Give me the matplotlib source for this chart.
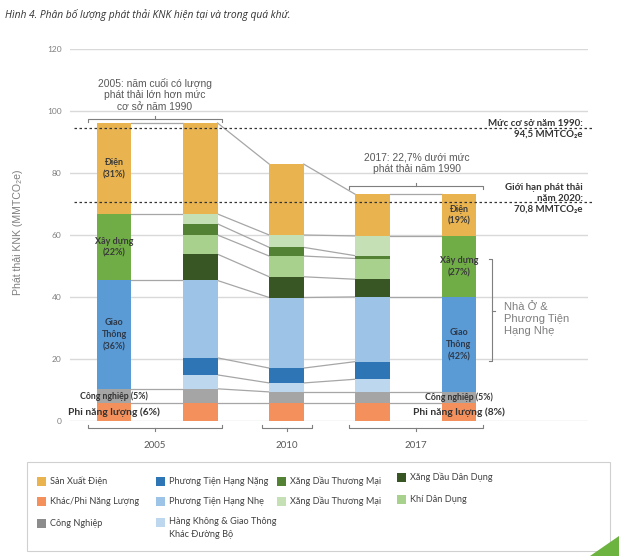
import matplotlib
matplotlib.use("Agg")
import matplotlib.pyplot as plt
from matplotlib.patches import Rectangle, Polygon

# ---------------- data ----------------
title = "Hình 4. Phân bố lượng phát thải KNK hiện tại và trong quá khứ."
years = ["2005", "2010", "2017"]

detail_sectors = ["Khác/Phi Năng Lượng", "Công Nghiệp", "Hàng Không & Giao Thông\nKhác Đường Bộ",
                  "Phương Tiện Hạng Nặng", "Phương Tiện Hạng Nhẹ", "Xăng Dầu Dân Dụng",
                  "Khí Dân Dụng", "Xăng Dầu Thương Mại", "Xăng Dầu Thương Mại ", "Sản Xuất Điện"]
detail_2005 = [5.7, 4.6, 4.5, 5.5, 25.0, 8.5, 6.2, 3.6, 3.2, 29.4]
detail_2010 = [5.7, 3.6, 2.9, 4.8, 22.8, 6.7, 6.7, 2.8, 4.0, 22.9]
detail_2017 = [5.7, 3.6, 4.1, 5.7, 20.9, 5.7, 6.7, 0.9, 6.4, 13.4]

agg_sectors = ["Phi năng lượng", "Công nghiệp", "Giao Thông", "Xây dựng", "Điện"]
agg_2005 = [5.7, 4.6, 35.0, 21.5, 29.4]
agg_2017 = [5.7, 3.6, 30.7, 19.7, 13.4]
agg_labels_2005 = ["Phi năng lượng (6%)", "Công nghiệp (5%)", "Giao\nThông\n(36%)", "Xây dựng\n(22%)", "Điện\n(31%)"]
agg_labels_2017 = ["Phi năng lượng (8%)", "Công nghiệp (5%)", "Giao\nThông\n(42%)", "Xây dựng\n(27%)", "Điện\n(19%)"]

baseline_1990 = 94.5
limit_2020 = 70.8
yticks = [0, 20, 40, 60, 80, 100, 120]

# ---------------- style ----------------
detail_colors = ["#F4905C", "#A5A5A5", "#BDD7EE", "#2E75B6", "#9DC3E6", "#375623",
                 "#A9D18E", "#548235", "#C5E0B4", "#E9B450"]
agg_colors = ["#F4905C", "#A5A5A5", "#5B9BD5", "#70AD47", "#E9B450"]

SANS = ["Lato", "Noto Sans", "DejaVu Sans"]
ARIAL = ["Liberation Sans", "DejaVu Sans"]
plt.rcParams["font.family"] = SANS

W, H = 619, 556
fig = plt.figure(figsize=(W / 100, H / 100), dpi=100)
fig.patch.set_facecolor("white")

def fx(px):
    return px / W

def fy(py):
    return 1 - py / H

ax_left, ax_right, ax_top, ax_bot = 70, 588, 49.3, 420.7
ax = fig.add_axes([fx(ax_left), fy(ax_bot), (ax_right - ax_left) / W, (ax_bot - ax_top) / H])
ax.set_ylim(0, 120)
spacing = 86.25
xl = (ax_left - 114) / spacing
xr = (ax_right - 114) / spacing
ax.set_xlim(xl, xr)
for s in ax.spines.values():
    s.set_visible(False)
ax.set_xticks([])
ax.set_yticks(yticks)
ax.tick_params(axis="y", length=0, pad=6, labelsize=6, labelcolor="#7F7F7F")
ax.yaxis.grid(True, color="#D9D9D9", linewidth=1)
ax.set_axisbelow(True)

def px2x(px):
    return (px - 114) / spacing

def py2v(py):
    return (ax_bot - py) / ((ax_bot - ax_top) / 120)

def cum(vals):
    out, s = [], 0
    for v in vals:
        s += v
        out.append(s)
    return out

bw = 0.4
bars = [(0, agg_2005, agg_colors), (1, detail_2005, detail_colors), (2, detail_2010, detail_colors),
        (3, detail_2017, detail_colors), (4, agg_2017, agg_colors)]
cums = []
for xpos, vals, cols in bars:
    bottom = 0
    for v, c in zip(vals, cols):
        ax.bar(xpos, v, bottom=bottom, width=bw, color=c, edgecolor="none", zorder=3)
        bottom += v
    cums.append(cum(vals))

lc = "#A6A6A6"
for t in cum(agg_2005):
    ax.plot([0 + bw / 2, 1 - bw / 2], [t, t], color=lc, lw=0.9, zorder=2)
for t in cum(agg_2017):
    ax.plot([3 + bw / 2, 4 - bw / 2], [t, t], color=lc, lw=0.9, zorder=2)
for i in (1, 2):
    a, b = cums[i], cums[i + 1]
    for ta, tb in zip(a, b):
        ax.plot([i + bw / 2, i + 1 - bw / 2], [ta, tb], color=lc, lw=0.9, zorder=2)

# reference dotted lines
for yv in (baseline_1990, limit_2020):
    ax.plot([px2x(74), px2x(593)], [yv, yv], color="#333333", lw=0.9, ls=(0, (2, 2)), zorder=4, clip_on=False)

# bar labels
for xpos, vals, labels in ((0, agg_2005, agg_labels_2005), (4, agg_2017, agg_labels_2017)):
    c = cum(vals)
    b = [0] + c[:-1]
    for k, (lo, hi, lab) in enumerate(zip(b, c, labels)):
        mid = (lo + hi) / 2
        if k == 0:
            ax.text(xpos, mid, lab, ha="center", va="center", fontsize=7.4, fontweight="bold",
                    color="#333333", zorder=6)
        elif k == 1:
            ax.text(xpos, mid, lab, ha="center", va="center", fontsize=6.3, fontweight="bold",
                    color="#333333", zorder=6)
        else:
            ax.text(xpos, mid, lab, ha="center", va="center", fontsize=6.5, fontweight="bold",
                    color="#3A3A3A" if k != 2 else "#2E3A4C", zorder=6, linespacing=1.45)

# right side labels
ax.text(px2x(583), py2v(128.5), "Mức cơ sở năm 1990:\n94,5 MMTCO₂e", ha="right", va="center",
        fontsize=7.0, fontweight="bold", color="#333333", linespacing=1.25, zorder=6, clip_on=False)
ax.text(px2x(583), py2v(198.5), "Giới hạn phát thải\nnăm 2020:\n70,8 MMTCO₂e", ha="right", va="center",
        fontsize=7.0, fontweight="bold", color="#333333", linespacing=1.25, zorder=6, clip_on=False)

# top annotations with brackets
ax.text(px2x(155), py2v(95), "2005: năm cuối có lượng\nphát thải lớn hơn mức\ncơ sở năm 1990",
        ha="center", va="center", fontsize=7.4, color="#595959", family=ARIAL, linespacing=1.2)
ax.text(px2x(417), py2v(163.5), "2017: 22,7% dưới mức\nphát thải năm 1990",
        ha="center", va="center", fontsize=7.4, color="#595959", family=ARIAL, linespacing=1.2)

def hbracket(x0, x1, y, up_tick, endlen=3):
    xs = [px2x(x0), px2x(x0), px2x(x1), px2x(x1)]
    e = endlen if up_tick else -endlen
    ys = [py2v(y + e), py2v(y), py2v(y), py2v(y + e)]
    ax.plot(xs, ys, color="#7F7F7F", lw=0.8, clip_on=False, zorder=5)
    xm = (x0 + x1) / 2
    ax.plot([px2x(xm), px2x(xm)], [py2v(y), py2v(y - e)], color="#7F7F7F", lw=0.8, clip_on=False, zorder=5)

hbracket(88, 222, 119, True)
hbracket(349, 483, 186, True)
hbracket(88, 222, 428, False)
hbracket(262, 312, 428, False)
hbracket(349, 483, 428, False)

# vertical bracket right
vx = 492
ax.plot([px2x(vx - 3), px2x(vx), px2x(vx), px2x(vx - 3)], [py2v(259), py2v(259), py2v(361), py2v(361)],
        color="#7F7F7F", lw=0.8, clip_on=False, zorder=5)
ax.plot([px2x(vx), px2x(vx + 3)], [py2v(311), py2v(311)], color="#7F7F7F", lw=0.8, clip_on=False, zorder=5)
ax.text(px2x(504), py2v(319), "Nhà Ở &\nPhương Tiện\nHạng Nhẹ", ha="left", va="center",
        fontsize=8.0, color="#7F7F7F", family=ARIAL, linespacing=1.2)

# year labels
for yr, xp in zip(years, (155, 287, 416)):
    fig.text(fx(xp), fy(446), yr, ha="center", va="center", fontsize=7, color="#595959")

# title
fig.text(fx(5), fy(15), title, ha="left", va="center", fontsize=7.4, style="italic", color="#333333",
         family=["Open Sans", "Noto Sans", "DejaVu Sans"])

# y label
fig.text(fx(18), fy(232), "Phát thải KNK (MMTCO₂e)", rotation=90, ha="center", va="center",
         fontsize=7.6, color="#7F7F7F", family=ARIAL)

# legend box
fig.patches.append(Rectangle((fx(27), fy(551)), (610 - 27) / W, (551 - 462) / H, transform=fig.transFigure,
                             facecolor="white", edgecolor="#D0D0D0", lw=0.8))
legend_items = [
    (37, 481, 0, "Sản Xuất Điện", detail_colors[9]),
    (37, 501, 0, "Khác/Phi Năng Lượng", detail_colors[0]),
    (37, 523, 0, "Công Nghiệp", "#8C8C8C"),
    (156, 481, 0, "Phương Tiện Hạng Nặng", detail_colors[3]),
    (156, 501, 0, "Phương Tiện Hạng Nhẹ", detail_colors[4]),
    (156, 522, 1, "Hàng Không & Giao Thông\nKhác Đường Bộ", detail_colors[2]),
    (277, 481, 0, "Xăng Dầu Thương Mại", detail_colors[7]),
    (277, 501, 0, "Xăng Dầu Thương Mại", detail_colors[8]),
    (397, 477, 0, "Xăng Dầu Dân Dụng", detail_colors[5]),
    (397, 499, 0, "Khí Dân Dụng", detail_colors[6]),
]
for x0, yc, multi, lab, col in legend_items:
    fig.patches.append(Rectangle((fx(x0), fy(yc + 4.5)), 9 / W, 9 / H, transform=fig.transFigure,
                                 facecolor=col, edgecolor="none"))
    if multi:
        fig.text(fx(x0 + 13), fy(yc - 5.5), lab, ha="left", va="top", fontsize=6.6, color="#404040",
                 linespacing=1.6)
    else:
        fig.text(fx(x0 + 13), fy(yc + 0.5), lab, ha="left", va="center", fontsize=6.6, color="#404040")

# decorative green corner
fig.patches.append(Polygon([(fx(590), fy(556)), (fx(619), fy(536)), (fx(619), fy(556))],
                           closed=True, transform=fig.transFigure, facecolor="#6DB33F", edgecolor="none"))

fig.savefig("out.png", dpi=100)
